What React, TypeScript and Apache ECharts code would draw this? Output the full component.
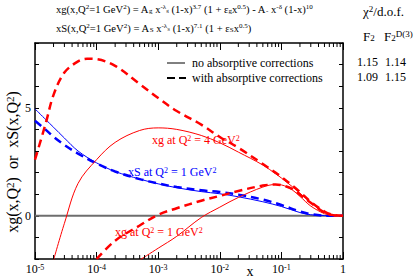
import React, { useEffect, useRef } from 'react';
import * as echarts from 'echarts';

// ---------- data ----------
const X_MIN_DECADE = -5;
const X_MAX_DECADE = 0;
const Y_MIN = -2;
const Y_MAX = 8;
const Y_LABELS = [0, 5];

// xg at Q^2 = 4 GeV^2, with absorptive corrections (red dashed)
const X_G4_ABS = [1e-5, 1.5e-5, 2e-5, 3e-5, 5e-5, 7e-5, 1e-4, 2e-4, 5e-4, 1e-3, 2e-3, 5e-3, 1e-2, 2e-2, 5e-2, 0.08, 0.1, 0.15, 0.2, 0.3, 0.5, 0.7, 1];
const XG4_ABS = [2.6, 4.3, 5.6, 6.63, 7.15, 7.27, 7.25, 6.94, 6.1, 5.45, 4.85, 4.22, 3.65, 3.15, 2.4, 2.0, 1.8, 1.4, 1.1, 0.65, 0.2, 0.04, 0];

// xg at Q^2 = 4 GeV^2, no absorptive corrections (red solid)
const X_G4_NOABS = [2e-5, 3e-5, 5e-5, 1e-4, 2e-4, 5e-4, 1e-3, 2e-3, 5e-3, 1e-2, 2e-2, 5e-2, 0.08, 0.1, 0.15, 0.2, 0.3, 0.5, 0.7, 1];
const XG4_NOABS = [-2.05, -0.35, 1.5, 2.6, 3.4, 3.95, 4.07, 4.0, 3.72, 3.38, 2.95, 2.35, 1.95, 1.75, 1.35, 1.05, 0.6, 0.15, 0.03, 0];

// xg at Q^2 = 1 GeV^2, with absorptive corrections (red dashed)
const X_G1_ABS = [1e-4, 2e-4, 5e-4, 1e-3, 2e-3, 5e-3, 1e-2, 2e-2, 5e-2, 0.08, 0.1, 0.15, 0.2, 0.3, 0.5, 0.7, 1];
const XG1_ABS = [-2.0, -1.15, -0.45, 0.05, 0.35, 0.7, 0.92, 1.15, 1.4, 1.45, 1.42, 1.25, 0.98, 0.6, 0.15, 0.03, 0];

// xg at Q^2 = 1 GeV^2, no absorptive corrections (red solid)
const X_G1_NOABS = [5e-4, 1e-3, 2e-3, 5e-3, 1e-2, 2e-2, 5e-2, 0.08, 0.1, 0.15, 0.2, 0.3, 0.5, 0.7, 1];
const XG1_NOABS = [-2.05, -1.5, -0.95, -0.08, 0.4, 0.85, 1.33, 1.45, 1.43, 1.2, 0.9, 0.45, 0.1, 0.02, 0];

// xS at Q^2 = 1 GeV^2 (blue)
const X_S = [1e-5, 1.5e-5, 2e-5, 3e-5, 5e-5, 1e-4, 2e-4, 5e-4, 1e-3, 2e-3, 5e-3, 1e-2, 2e-2, 5e-2, 0.1, 0.2, 0.3, 0.5, 1];
const XS_NOABS = [4.95, 4.45, 4.1, 3.6, 3.0, 2.45, 2.05, 1.7, 1.48, 1.3, 1.12, 1.02, 0.88, 0.65, 0.43, 0.15, 0.05, 0.01, 0];
const XS_ABS = [4.4, 3.98, 3.66, 3.28, 2.88, 2.42, 2.05, 1.7, 1.5, 1.33, 1.18, 1.1, 0.98, 0.75, 0.5, 0.2, 0.08, 0.01, 0];

// chi^2 / d.o.f. table
const CHI_ROWS = [
  ['1.15', '1.14'],
  ['1.09', '1.15'],
];

// ---------- helpers ----------
const FAM = 'Liberation Serif';
const RED = '#ff0000';
const BLUE = '#0000ff';

function richSet(size: number, color: string) {
  const a = Math.round(size * 0.25);
  const ss = Math.round(size * 0.68);
  return {
    n: { fontSize: size, lineHeight: size, padding: [a, 0, a, 0], fontFamily: FAM, color, fill: color },
    sup: { fontSize: ss, lineHeight: ss, verticalAlign: 'top', fontFamily: FAM, color, fill: color },
    sub: { fontSize: ss, lineHeight: ss, verticalAlign: 'bottom', fontFamily: FAM, color, fill: color },
    tiny: { fontSize: Math.round(size * 0.5), lineHeight: Math.round(size * 0.5), verticalAlign: 'top', padding: [Math.round(size * 0.35), 0, 0, 0], fontFamily: FAM, color, fill: color },
  };
}

function txt(x: number, y: number, text: string, size: number, color: string, align = 'left', extra: any = {}) {
  return {
    type: 'text',
    x,
    y,
    silent: true,
    z: 100,
    ...extra,
    style: {
      text,
      rich: richSet(size, color),
      fill: color,
      fontFamily: FAM,
      fontSize: size,
      align,
      textAlign: align,
      verticalAlign: 'middle',
      textVerticalAlign: 'middle',
    },
  };
}

const toPairs = (xs: number[], ys: number[]) => xs.map((x, i) => [Math.log10(x), ys[i]]);

const minorTicks: number[][] = [];
for (let d = X_MIN_DECADE; d < X_MAX_DECADE; d++) {
  for (let k = 2; k <= 9; k++) minorTicks.push([d + Math.log10(k), Y_MIN]);
}

function curve(name: string, xs: number[], ys: number[], color: string, dashed: boolean) {
  return {
    name,
    type: 'line',
    data: toPairs(xs, ys),
    symbol: 'none',
    smooth: 0.35,
    silent: true,
    clip: true,
    z: 5,
    lineStyle: dashed
      ? { color, width: 2.5, type: [8, 5], cap: 'butt' }
      : { color, width: 1, type: 'solid' },
  };
}

const frameLine = { show: true, onZero: false, lineStyle: { color: '#000', width: 1.5 } };

function buildOption(): any {
  const tickRich = richSet(12, '#000');
  return {
    animation: false,
    backgroundColor: '#fff',
    grid: { left: 35, top: 43, width: 308, height: 216, containLabel: false },
    xAxis: [
      {
        type: 'value',
        min: X_MIN_DECADE,
        max: X_MAX_DECADE,
        interval: 1,
        position: 'bottom',
        axisLine: frameLine,
        axisTick: { show: true, inside: true, length: 7, lineStyle: { color: '#000', width: 1 } },
        axisLabel: {
          margin: 4,
          color: '#000',
          fontFamily: FAM,
          formatter: (v: number) => {
            const r = Math.round(v);
            return r === 0 ? '{n|1}' : '{n|10}{sup|' + r + '}';
          },
          rich: tickRich,
        },
        splitLine: { show: false },
      },
      {
        type: 'value',
        min: X_MIN_DECADE,
        max: X_MAX_DECADE,
        interval: 1,
        position: 'top',
        axisLine: frameLine,
        axisTick: { show: true, inside: true, length: 7, lineStyle: { color: '#000', width: 1 } },
        axisLabel: { show: false },
        splitLine: { show: false },
      },
    ],
    yAxis: [
      {
        type: 'value',
        min: Y_MIN,
        max: Y_MAX,
        interval: 1,
        position: 'left',
        axisLine: frameLine,
        axisTick: { show: true, inside: true, length: 4, lineStyle: { color: '#000', width: 1 } },
        axisLabel: {
          margin: 4,
          color: '#000',
          fontFamily: FAM,
          fontSize: 12,
          formatter: (v: number) => (Y_LABELS.includes(Math.round(v)) ? String(Math.round(v)) : ''),
        },
        splitLine: { show: false },
      },
      {
        type: 'value',
        min: Y_MIN,
        max: Y_MAX,
        interval: 1,
        position: 'right',
        axisLine: frameLine,
        axisTick: { show: true, inside: true, length: 4, lineStyle: { color: '#000', width: 1 } },
        axisLabel: { show: false },
        splitLine: { show: false },
      },
    ],
    series: [
      {
        name: 'zero',
        type: 'line',
        data: [[X_MIN_DECADE, 0], [X_MAX_DECADE, 0]],
        symbol: 'none',
        silent: true,
        z: 2,
        lineStyle: { color: '#6e6e6e', width: 2 },
      },
      curve('xS no abs', X_S, XS_NOABS, BLUE, false),
      curve('xS abs', X_S, XS_ABS, BLUE, true),
      curve('xg4 no abs', X_G4_NOABS, XG4_NOABS, RED, false),
      curve('xg4 abs', X_G4_ABS, XG4_ABS, RED, true),
      curve('xg1 no abs', X_G1_NOABS, XG1_NOABS, RED, false),
      curve('xg1 abs', X_G1_ABS, XG1_ABS, RED, true),
      {
        name: 'minor ticks',
        type: 'custom',
        silent: true,
        z: 10,
        data: minorTicks,
        renderItem: (params: any, api: any) => {
          const v = api.value(0);
          const b = api.coord([v, Y_MIN]);
          const t = api.coord([v, Y_MAX]);
          return {
            type: 'group',
            children: [
              { type: 'line', shape: { x1: b[0], y1: b[1], x2: b[0], y2: b[1] - 4 }, style: { stroke: '#000', lineWidth: 1 } },
              { type: 'line', shape: { x1: t[0], y1: t[1], x2: t[0], y2: t[1] + 4 }, style: { stroke: '#000', lineWidth: 1 } },
            ],
          };
        },
      },
    ],
    graphic: [
      // formulas
      txt(56, 9, '{n|xg(x,Q}{sup|2}{n|=1 GeV}{sup|2}{n|) = A}{sub|g}{n| x}{sup|-λ}{tiny|g}{n| (1-x)}{sup|3.7}{n| (1 + ε}{sub|g}{n|x}{sup|0.5}{n|) - A}{sub|-}{n| x}{sup|-δ}{n| (1-x)}{sup|10}', 10.6, '#000'),
      txt(56, 28, '{n|xS(x,Q}{sup|2}{n|=1 GeV}{sup|2}{n|) = A}{sub|S}{n| x}{sup|-λ}{tiny|S}{n| (1-x)}{sup|7.1}{n| (1 + ε}{sub|S}{n|x}{sup|0.5}{n|)}', 10.6, '#000'),
      // chi2 table
      txt(363, 11, '{n|χ}{sup|2}{n|/d.o.f.}', 13, '#000'),
      txt(363, 36, '{n|F}{sub|2}', 13, '#000'),
      txt(384, 36, '{n|F}{sub|2}{sup|D(3)}', 13, '#000'),
      txt(357, 62, '{n|' + CHI_ROWS[0][0] + '}', 12, '#000'),
      txt(385, 62, '{n|' + CHI_ROWS[0][1] + '}', 12, '#000'),
      txt(357, 77, '{n|' + CHI_ROWS[1][0] + '}', 12, '#000'),
      txt(385, 77, '{n|' + CHI_ROWS[1][1] + '}', 12, '#000'),
      // legend
      { type: 'line', silent: true, z: 100, shape: { x1: 167, y1: 63, x2: 185, y2: 63 }, style: { stroke: '#000', lineWidth: 1 } },
      { type: 'line', silent: true, z: 100, shape: { x1: 167, y1: 78, x2: 186, y2: 78 }, style: { stroke: '#000', lineWidth: 2.2, lineDash: [8, 4] } },
      txt(192, 63, '{n|no absorptive corrections}', 12, '#000'),
      txt(192, 78, '{n|with absorptive corrections}', 12, '#000'),
      // curve labels
      txt(152, 140, '{n|xg at Q}{sup|2}{n| = 4 GeV}{sup|2}', 12, RED),
      txt(128, 172, '{n|xS at Q}{sup|2}{n| = 1 GeV}{sup|2}', 12, BLUE),
      txt(115, 232, '{n|xg at Q}{sup|2}{n| = 1 GeV}{sup|2}', 12, RED),
      // axis titles
      txt(12, 162, '{n|xg(x,Q}{sup|2}{n|)  or  xS(x,Q}{sup|2}{n|)}', 16, '#000', 'center', { rotation: Math.PI / 2 }),
      txt(250, 271, '{n|x}', 14, '#000', 'center'),
    ],
  };
}

export default function App() {
  const ref = useRef<HTMLDivElement>(null);
  useEffect(() => {
    if (!ref.current) return;
    const chart = echarts.init(ref.current, null, { renderer: 'svg' });
    chart.setOption(buildOption());
    return () => chart.dispose();
  }, []);
  return (
    <div
      ref={ref}
      style={{ position: 'absolute', left: 0, top: 0, width: 415, height: 279, background: '#fff' }}
    />
  );
}
